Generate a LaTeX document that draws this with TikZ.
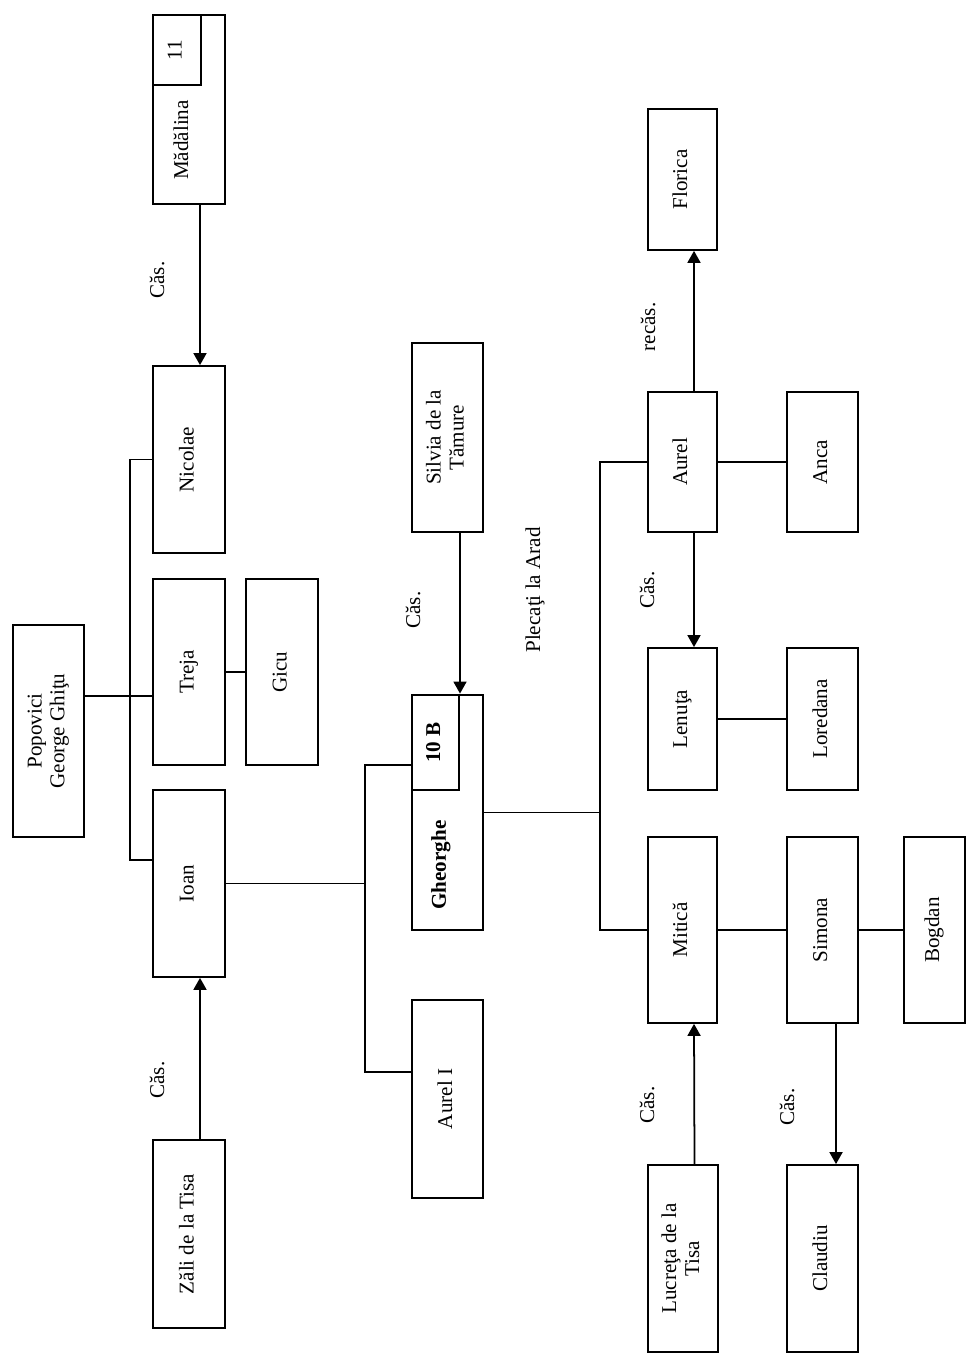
\documentclass[tikz,border=0pt]{standalone}
\usepackage{fontspec}
\setmainfont{Liberation Serif}
\usetikzlibrary{arrows.meta, positioning}

\newcommand{\vtext}[1]{\rotatebox{90}{\begin{tabular}{@{}c@{}}#1\end{tabular}}}

\begin{document}
\begin{tikzpicture}[
  box/.style={draw, line width=1pt, minimum width=1.44cm, inner sep=0pt,
              font=\fontsize{12}{13}\selectfont},
  lbl/.style={rotate=90, inner sep=1pt, font=\fontsize{12}{13}\selectfont},
  link/.style={line width=0.9pt},
  marriage/.style={line width=1pt, -{Triangle[length=2.4mm, width=2.6mm]}}
]
  \useasboundingbox (0,0) rectangle (19.32,27.06);
  % Parents
  \node[box, minimum width=1.42cm, minimum height=4.24cm] (popovici) at (0.97,12.44)
    {\vtext{Popovici\\George Ghiţu}};
  % Children
  \node[box, minimum height=3.78cm] (madalina) at (3.78,24.87) {};
  \node[box, anchor=north west, minimum width=0.96cm, minimum height=1.4cm] (cls11)
    at (madalina.north west) {\vtext{11}};
  \node[lbl] (tmadalina) at (3.62,24.26) {Mădălina};
  \node[box, minimum height=3.74cm] (nicolae) at (3.78,17.87) {\vtext{Nicolae}};
  \node[box, minimum height=3.72cm] (treja) at (3.78,13.62) {\vtext{Treja}};
  \node[box, minimum height=3.72cm] (gicu) at (5.64,13.62) {\vtext{Gicu}};
  \node[box, minimum height=3.74cm] (ioan) at (3.78,9.39) {\vtext{Ioan}};
  \node[box, minimum height=3.76cm] (zali) at (3.78,2.38) {\vtext{Zăli de la Tisa}};
  % Ioan's family
  \node[box, minimum width=1.42cm, minimum height=3.78cm] (silvia) at (8.95,18.31)
    {\vtext{Silvia de la\\Tămure}};
  \node[box, line width=1.6pt, minimum width=1.42cm, minimum height=4.7cm] (gheorghe)
    at (8.95,10.81) {};
  \node[box, line width=1.6pt, anchor=north west, minimum width=0.94cm, minimum height=1.9cm,
        font=\fontsize{12}{13}\selectfont\bfseries] (tenb)
    at (gheorghe.north west) {\vtext{10 B}};
  \node[lbl, font=\fontsize{12}{13}\selectfont\bfseries] (tgheorghe) at (8.82,9.76) {Gheorghe};
  \node[box, minimum width=1.42cm, minimum height=3.96cm] (aureli) at (8.95,5.08)
    {\vtext{Aurel I}};
  % Gheorghe's family
  \node[box, minimum width=1.38cm, minimum height=2.82cm] (florica) at (13.65,23.47)
    {\vtext{Florica}};
  \node[box, minimum width=1.38cm, minimum height=2.8cm] (aurel) at (13.65,17.82)
    {\vtext{Aurel}};
  \node[box, minimum width=1.42cm, minimum height=2.8cm] (anca) at (16.45,17.82)
    {\vtext{Anca}};
  \node[box, minimum width=1.38cm, minimum height=2.84cm] (lenuta) at (13.65,12.68)
    {\vtext{Lenuţa}};
  \node[box, minimum width=1.42cm, minimum height=2.84cm] (loredana) at (16.45,12.68)
    {\vtext{Loredana}};
  \node[box, minimum width=1.38cm, minimum height=3.72cm] (mitica) at (13.65,8.46)
    {\vtext{Mitică}};
  \node[box, minimum width=1.42cm, minimum height=3.72cm] (simona) at (16.45,8.46)
    {\vtext{Simona}};
  \node[box, minimum width=1.22cm, minimum height=3.72cm] (bogdan) at (18.69,8.46)
    {\vtext{Bogdan}};
  \node[box, minimum width=1.4cm, minimum height=3.74cm] (lucreta) at (13.66,1.89)
    {\vtext{Lucreţa de la\\Tisa}};
  \node[box, minimum width=1.42cm, minimum height=3.74cm] (claudiu) at (16.45,1.89)
    {\vtext{Claudiu}};
  % Junctions
  \coordinate (jp) at (2.6,13.14);
  \coordinate (ji) at (2.6,9.86);
  \coordinate (jg1) at (7.3,11.76);
  \coordinate (jg2) at (7.3,5.62);
  \coordinate (jm) at (12.0,10.81);
  % Lines of descent
  \draw[link] (popovici.east |- jp) -- (treja.west |- jp);
  \draw[link] (nicolae.west) -| (ji) -- (ioan.west |- ji);
  \draw[link] (treja) -- (gicu);
  \draw[link] (ioan.east) -- (ioan.east -| jg1);
  \draw[link] (gheorghe.west |- jg1) -- (jg1) -- (jg2) -- (aureli.west |- jg2);
  \draw[link] (gheorghe.east) -- (jm);
  \draw[link] (aurel.west) -| (jm) |- (mitica.west);
  \draw[link] (aurel) -- (anca);
  \draw[link] (lenuta) -- (loredana);
  \draw[link] (mitica) -- (simona);
  \draw[link] (simona) -- (bogdan);
  % Marriages
  \draw[marriage] ([xshift=0.22cm]madalina.south) -- ([xshift=0.22cm]nicolae.north);
  \draw[marriage] ([xshift=0.22cm]zali.north) -- ([xshift=0.22cm]ioan.south);
  \draw[marriage] ([xshift=0.25cm]silvia.south) -- ([xshift=0.25cm]gheorghe.north);
  \draw[marriage] ([xshift=0.23cm]aurel.north) -- ([xshift=0.23cm]florica.south);
  \draw[marriage] ([xshift=0.23cm]aurel.south) -- ([xshift=0.23cm]lenuta.north);
  \draw[marriage] ([xshift=0.23cm]lucreta.north) -- ([xshift=0.23cm]mitica.south);
  \draw[marriage] ([xshift=0.27cm]simona.south) -- ([xshift=0.27cm]claudiu.north);
  % Labels
  \node[lbl] (cas1) at (3.14,21.46) {Căs.};
  \node[lbl] (cas2) at (3.14,5.46) {Căs.};
  \node[lbl] (cas3) at (8.26,14.86) {Căs.};
  \node[lbl] (arad) at (10.7,15.26) {Plecaţi la Arad};
  \node[lbl] (recas) at (12.96,20.52) {recăs.};
  \node[lbl] (cas4) at (12.94,15.26) {Căs.};
  \node[lbl] (cas5) at (12.94,4.96) {Căs.};
  \node[lbl] (cas6) at (15.74,4.92) {Căs.};
\end{tikzpicture}
\end{document}
